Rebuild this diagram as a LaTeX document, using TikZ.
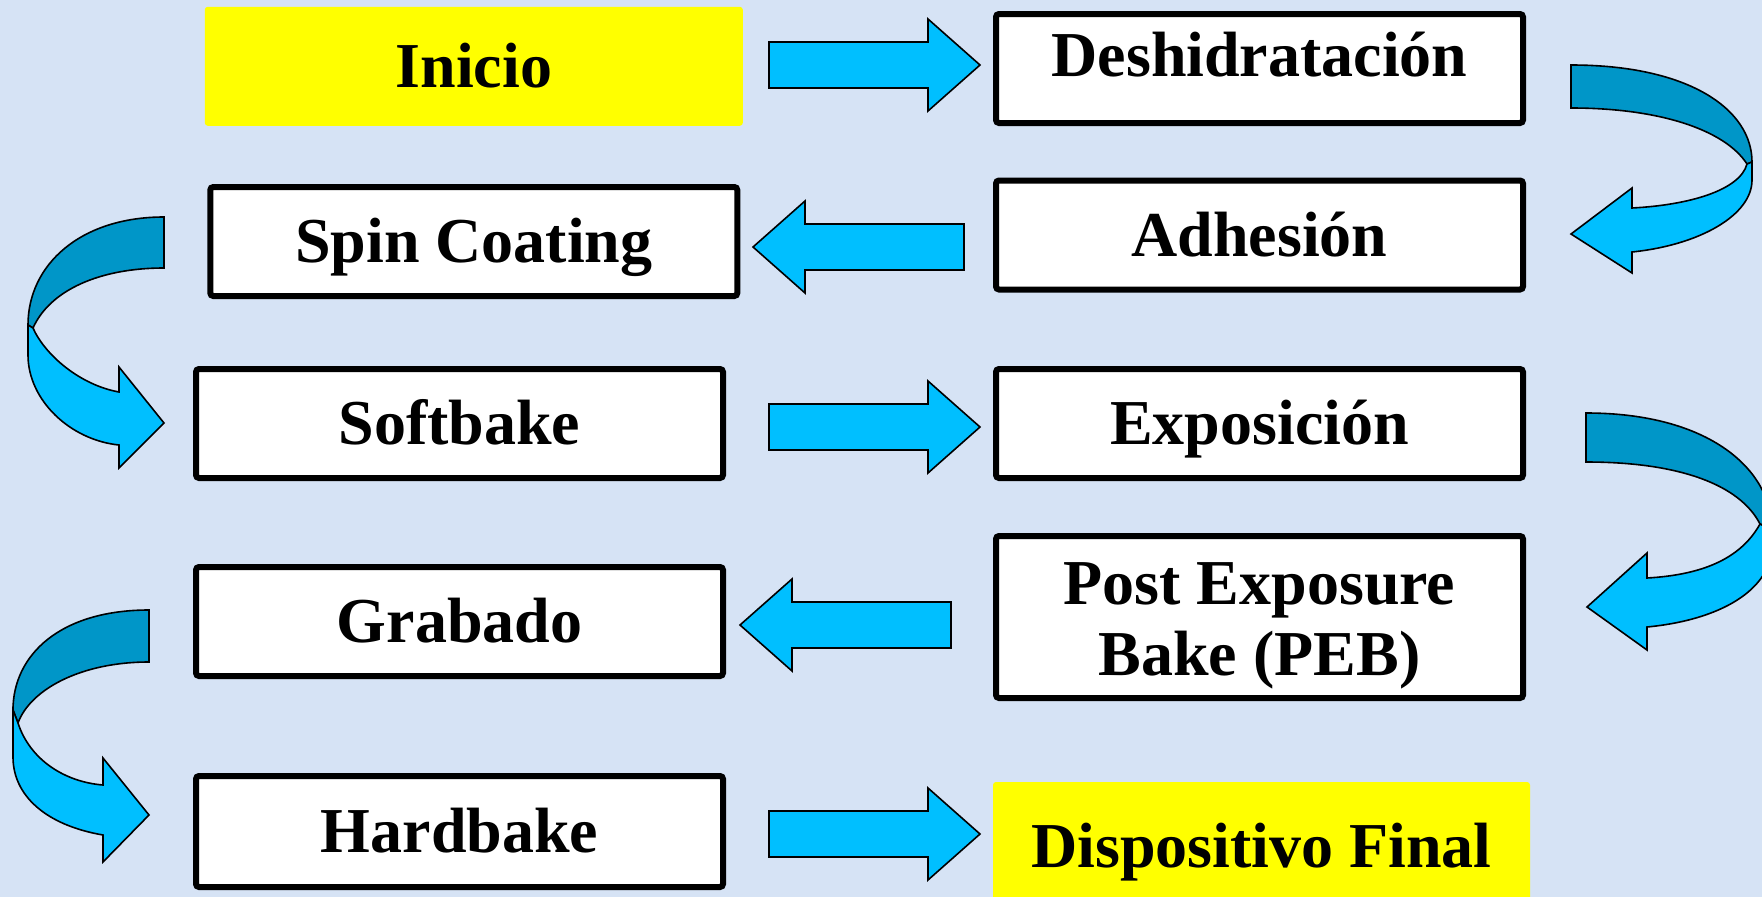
\documentclass[tikz,border=0pt]{standalone}
\usepackage{fontspec}
\setmainfont{Liberation Serif}
\definecolor{bg}{RGB}{214,227,245}
\definecolor{arrowL}{RGB}{0,191,255}
\definecolor{arrowD}{RGB}{0,150,200}
\definecolor{yel}{RGB}{255,255,0}
\tikzset{
  box/.style={draw=black, line width=6pt, fill=white, rounded corners=3pt,
    minimum width=527pt, minimum height=109pt, inner sep=0pt,
    font=\fontsize{64}{71}\selectfont\bfseries},
  ybox/.style={draw=none, fill=yel, rounded corners=3pt,
    minimum width=538pt, minimum height=119pt, inner sep=0pt,
    font=\fontsize{64}{71}\selectfont\bfseries},
  capc/.style={text height=42pt, text depth=0pt},
  barrow/.style={draw=black, line width=1.6pt, fill=arrowL, line join=miter},
  barrowd/.style={draw=black, line width=1.6pt, fill=arrowD, line join=miter},
  rarrow/.pic={\draw[barrow] (0,-23) -- (159,-23) -- (159,-46) -- (211,0) -- (159,46) -- (159,23) -- (0,23) -- cycle;},
  larrow/.pic={\draw[barrow] (0,-23) -- (-159,-23) -- (-159,-46) -- (-211,0) -- (-159,46) -- (-159,23) -- (0,23) -- cycle;}
}
\begin{document}
\begin{tikzpicture}[x=1pt,y=-1pt]
\useasboundingbox (0,0) rectangle (1762,897);
\clip (0,0) rectangle (1762,897);
\fill[bg] (0,0) rectangle (1762,897);

% boxes
\node[ybox, capc] (inicio) at (473.8,66.3) {Inicio};
\node[box, text height=42pt, text depth=27pt] (desh) at (1259.5,68.5) {Deshidratación};
\node[box, capc] (adh) at (1259.5,235) {Adhesión};
\node[box, capc] (spin) at (473.8,241.5) {Spin Coating};
\node[box, capc] (soft) at (459.5,423.5) {Softbake};
\node[box, capc] (expo) at (1259.5,423.5) {Exposición};
\node[box, minimum height=162pt, align=center] (peb) at (1259.5,617) {\rule{0pt}{60pt}Post Exposure\\Bake (PEB)};
\node[box, capc] (grab) at (459.5,621.5) {Grabado};
\node[box, capc, minimum height=111pt] (hard) at (459.5,831.5) {Hardbake};
\node[ybox, capc, minimum width=537pt, minimum height=128pt] (disp) at (1261.5,846) {Dispositivo Final};

% straight block arrows
\pic at (769,65) {rarrow};
\pic at (964,247) {larrow};
\pic at (769,427) {rarrow};
\pic at (951,625) {larrow};
\pic at (769,834) {rarrow};

% curved arrow 1 (Deshidratacion -> Adhesion)
\draw[barrowd] (1571,65) .. controls (1690,65) and (1752,110) .. (1752,162)
  -- (1747,164) .. controls (1725,130) and (1660,108) .. (1571,108) -- cycle;
\draw[barrow] (1747,164) .. controls (1740,190) and (1690,205) .. (1632,208)
  -- (1632,188) -- (1571,234) -- (1632,273) -- (1632,252)
  .. controls (1700,245) and (1752,215) .. (1752,180) -- (1752,162) -- cycle;

% curved arrow 2 (Spin Coating -> Softbake)
\draw[barrowd] (164,217) .. controls (80,217) and (28,265) .. (28,325)
  -- (33,328) .. controls (50,290) and (100,268) .. (164,268) -- cycle;
\draw[barrow] (33,328) .. controls (45,355) and (80,385) .. (119,392)
  -- (119,367) -- (164,423) -- (119,468) -- (119,445)
  .. controls (70,440) and (28,400) .. (28,355) -- (28,325) -- cycle;

% curved arrow 3 (Exposicion -> PEB)
\draw[barrowd] (1586,413) .. controls (1710,413) and (1772,470) .. (1772,530)
  -- (1760,524) .. controls (1740,485) and (1680,462) .. (1586,462) -- cycle;
\draw[barrow] (1760,524) .. controls (1740,560) and (1700,575) .. (1647,578)
  -- (1647,553) -- (1587,607) -- (1647,650) -- (1647,627)
  .. controls (1720,620) and (1772,590) .. (1772,545) -- (1772,530) -- cycle;

% curved arrow 4 (Grabado -> Hardbake)
\draw[barrowd] (149,610) .. controls (60,610) and (13,655) .. (13,710)
  -- (18,723) .. controls (30,690) and (80,662) .. (149,662) -- cycle;
\draw[barrow] (18,723) .. controls (30,760) and (65,782) .. (103,785)
  -- (103,758) -- (149,815) -- (103,862) -- (103,835)
  .. controls (45,825) and (13,795) .. (13,757) -- (13,710) -- cycle;
\end{tikzpicture}
\end{document}
